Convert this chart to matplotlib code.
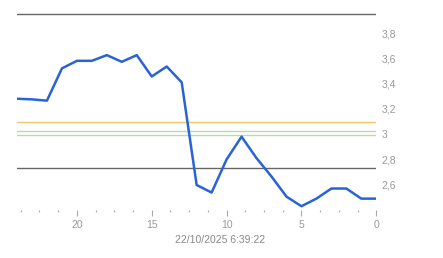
import matplotlib
matplotlib.use("Agg")
import matplotlib.pyplot as plt
from matplotlib.ticker import FuncFormatter, MultipleLocator

# dados (eixo x invertido, 24 -> 0)
horas = list(range(24, -1, -1))
valores = [3.28, 3.275, 3.265, 3.52, 3.58, 3.58, 3.625, 3.572, 3.625, 3.456,
           3.535, 3.41, 2.598, 2.538, 2.80, 2.98, 2.81, 2.665, 2.506, 2.43,
           2.49, 2.57, 2.57, 2.49, 2.49]

# linhas de referência
linha_max = 3.95
linha_min = 2.73
linha_laranja = 3.095
linhas_verdes = [3.024, 2.995]

data_hora = '22/10/2025 6:39:22'

plt.rcParams['font.family'] = ['Liberation Sans', 'DejaVu Sans']

fig = plt.figure(figsize=(4.43, 2.58), dpi=100)
ax = fig.add_axes([0.0384, 0.186, 0.811, 0.7694])

ax.axhline(linha_max, color='#666666', lw=1)
ax.axhline(linha_min, color='#666666', lw=1)
ax.axhline(linha_laranja, color='#f2c46a', lw=1)
for v in linhas_verdes:
    ax.axhline(v, color='#b5dcaa', lw=1)

ax.plot(horas, valores, color='#2a63d6', lw=1.8, solid_joinstyle='round')

ax.set_xlim(24, 0)
ax.set_ylim(2.40, 3.97)

for s in ax.spines.values():
    s.set_visible(False)

ax.xaxis.set_major_locator(MultipleLocator(5))
ax.xaxis.set_minor_locator(MultipleLocator(1.25))
ax.tick_params(axis='x', which='major', length=4, width=0.8, color='#aaaaaa',
               labelsize=7.5, labelcolor='#999999', pad=3)
ax.tick_params(axis='x', which='minor', length=1.5, width=0.8, color='#aaaaaa')

ax.yaxis.tick_right()
ax.set_yticks([2.6, 2.8, 3.0, 3.2, 3.4, 3.6, 3.8])
ax.yaxis.set_major_formatter(FuncFormatter(lambda v, p: ('%g' % round(v, 1)).replace('.', ',')))
ax.tick_params(axis='y', length=0, labelsize=7.5, labelcolor='#999999', pad=4)

fig.text(220 / 443, 1 - 240 / 258, data_hora, ha='center', va='center',
         fontsize=7.5, color='#888888')

fig.savefig('out.png', dpi=100)
